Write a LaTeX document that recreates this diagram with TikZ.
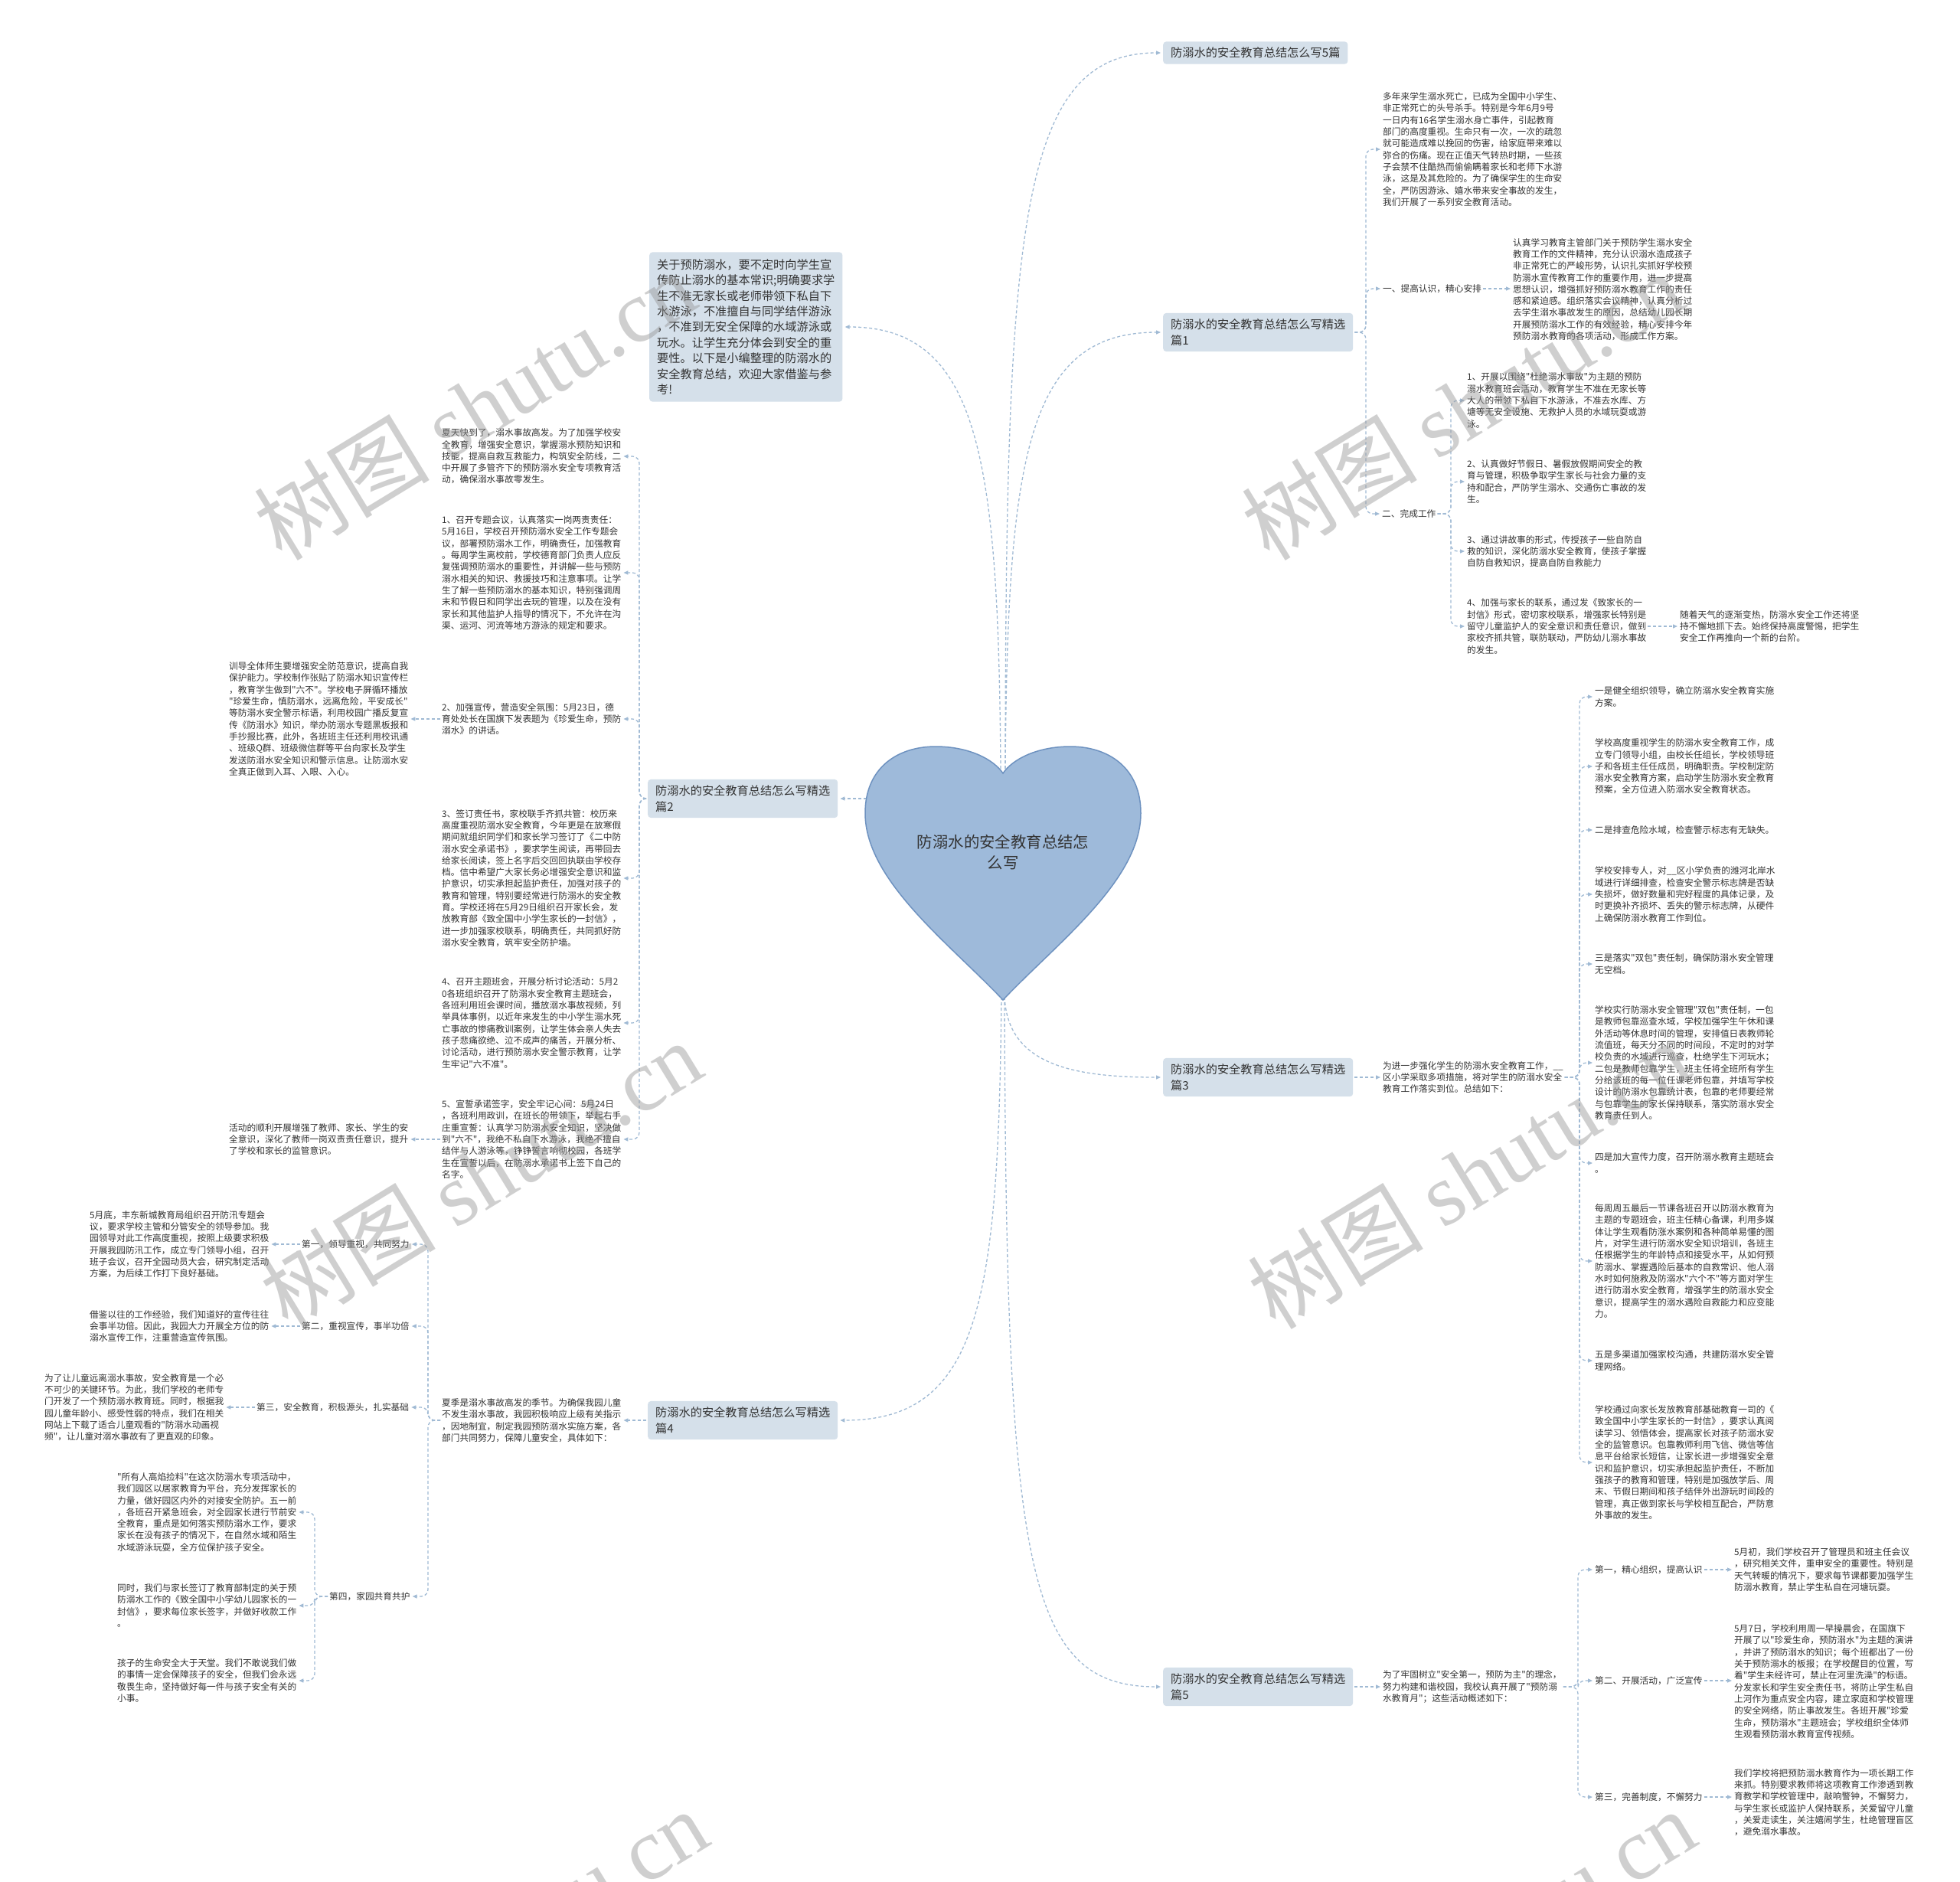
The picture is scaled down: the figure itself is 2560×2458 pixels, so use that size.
\documentclass[tikz,border=0pt]{standalone}
\usepackage{fontspec}
\setmainfont{Noto Sans CJK SC}[Ligatures=TeXOff]
\newfontfamily\wmserif{Liberation Serif}
\usetikzlibrary{arrows.meta}
\definecolor{txt}{RGB}{51,51,51}
\definecolor{boxfill}{RGB}{213,224,234}
\definecolor{lineblue}{RGB}{160,186,212}
\definecolor{heartfill}{RGB}{158,186,218}
\definecolor{heartline}{RGB}{110,146,192}
\definecolor{wmgray}{RGB}{150,150,150}
\tikzset{
 leaf/.style={inner sep=0pt, align=left, anchor=west, text=txt, font=\fontsize{11.7}{15.3}\selectfont},
 branch/.style={fill=boxfill, rounded corners=4pt, inner xsep=10pt, inner ysep=7.5pt, align=left, anchor=west, text=txt, font=\fontsize{15.2}{21}\selectfont},
 conn/.style={draw=lineblue, line width=1.3pt, dash pattern=on 4pt off 3pt, rounded corners=9pt, -{Triangle[length=6pt,width=5pt]}, shorten >=3pt, shorten <=2pt},
 wmark/.style={rotate=31.4, text=wmgray, opacity=0.45, font=\fontsize{115}{115}\selectfont, inner sep=0pt}
}
\begin{document}
\begin{tikzpicture}[x=1pt,y=-1pt]
\useasboundingbox (0,0) rectangle (2560,2458);
\fill[white] (0,0) rectangle (2560,2458);

% ---------- trunk coordinates ----------
\coordinate (t1) at (1784,0);
\coordinate (t1b) at (1895,0);
\coordinate (t3) at (2063,0);
\coordinate (t5) at (2061,0);
\coordinate (t2) at (835,0);
\coordinate (t4) at (559,0);
\coordinate (t4d) at (411,0);
\coordinate (hTR) at (1313,1006);
\coordinate (hTL) at (1307,1006);
\coordinate (hL) at (1134,1043);
\coordinate (hBR) at (1312,1300);
\coordinate (hBL) at (1308,1300);

% ---------- branch boxes ----------
\node[branch] (b5top) at (1519,69) {防溺水的安全教育总结怎么写5篇};
\node[branch] (b1) at (1519,434) {防溺水的安全教育总结怎么写精选\\篇1};
\node[branch] (b3) at (1519,1407) {防溺水的安全教育总结怎么写精选\\篇3};
\node[branch] (b5) at (1519,2203) {防溺水的安全教育总结怎么写精选\\篇5};
\node[branch, inner ysep=9pt, font=\fontsize{15.2}{20.4}\selectfont] (intro) at (848,427) {关于预防溺水，要不定时向学生宣\\传防止溺水的基本常识;明确要求学\\生不准无家长或老师带领下私自下\\水游泳，不准擅自与同学结伴游泳\\，不准到无安全保障的水域游泳或\\玩水。让学生充分体会到安全的重\\要性。以下是小编整理的防溺水的\\安全教育总结，欢迎大家借鉴与参\\考!};
\node[branch] (b2) at (846,1043) {防溺水的安全教育总结怎么写精选\\篇2};
\node[branch] (b4) at (846,1855) {防溺水的安全教育总结怎么写精选\\篇4};

% ---------- 篇1 ----------
\node[leaf] (b1t0) at (1806,195) {多年来学生溺水死亡，已成为全国中小学生、\\非正常死亡的头号杀手。特别是今年6月9号\\一日内有16名学生溺水身亡事件，引起教育\\部门的高度重视。生命只有一次，一次的疏忽\\就可能造成难以挽回的伤害，给家庭带来难以\\弥合的伤痛。现在正值天气转热时期，一些孩\\子会禁不住酷热而偷偷瞒着家长和老师下水游\\泳，这是及其危险的。为了确保学生的生命安\\全，严防因游泳、嬉水带来安全事故的发生，\\我们开展了一系列安全教育活动。};
\node[leaf] (b1a) at (1806,377) {一、提高认识，精心安排};
\node[leaf] (b1a1) at (1976,378) {认真学习教育主管部门关于预防学生溺水安全\\教育工作的文件精神，充分认识溺水造成孩子\\非正常死亡的严峻形势，认识扎实抓好学校预\\防溺水宣传教育工作的重要作用，进一步提高\\思想认识，增强抓好预防溺水教育工作的责任\\感和紧迫感。组织落实会议精神，认真分析过\\去学生溺水事故发生的原因，总结幼儿园长期\\开展预防溺水工作的有效经验，精心安排今年\\预防溺水教育的各项活动，形成工作方案。};
\node[leaf] (b1b) at (1805,671) {二、完成工作};
\node[leaf] (b1b1) at (1916,523) {1、开展以围绕"杜绝溺水事故"为主题的预防\\溺水教育班会活动，教育学生不准在无家长等\\大人的带领下私自下水游泳，不准去水库、方\\塘等无安全设施、无救护人员的水域玩耍或游\\泳。};
\node[leaf] (b1b2) at (1916,629) {2、认真做好节假日、暑假放假期间安全的教\\育与管理，积极争取学生家长与社会力量的支\\持和配合，严防学生溺水、交通伤亡事故的发\\生。};
\node[leaf] (b1b3) at (1916,720) {3、通过讲故事的形式，传授孩子一些自防自\\救的知识，深化防溺水安全教育，使孩子掌握\\自防自救知识，提高自防自救能力};
\node[leaf] (b1b4) at (1916,818) {4、加强与家长的联系，通过发《致家长的一\\封信》形式，密切家校联系，增强家长特别是\\留守儿童监护人的安全意识和责任意识，做到\\家校齐抓共管，联防联动，严防幼儿溺水事故\\的发生。};
\node[leaf] (b1b4x) at (2194,818) {随着天气的逐渐变热，防溺水安全工作还将坚\\持不懈地抓下去。始终保持高度警惕，把学生\\安全工作再推向一个新的台阶。};

% ---------- 篇3 ----------
\node[leaf] (b3t) at (1806,1407) {为进一步强化学生的防溺水安全教育工作，\_\_\\区小学采取多项措施，将对学生的防溺水安全\\教育工作落实到位。总结如下：};
\node[leaf] (b3a) at (2083,910) {一是健全组织领导，确立防溺水安全教育实施\\方案。};
\node[leaf] (b3b) at (2083,1001) {学校高度重视学生的防溺水安全教育工作，成\\立专门领导小组，由校长任组长，学校领导班\\子和各班主任任成员，明确职责。学校制定防\\溺水安全教育方案，启动学生防溺水安全教育\\预案，全方位进入防溺水安全教育状态。};
\node[leaf] (b3c) at (2083,1084) {二是排查危险水域，检查警示标志有无缺失。};
\node[leaf] (b3d) at (2083,1168) {学校安排专人，对\_\_区小学负责的潍河北岸水\\域进行详细排查，检查安全警示标志牌是否缺\\失损坏，做好数量和完好程度的具体记录，及\\时更换补齐损坏、丢失的警示标志牌，从硬件\\上确保防溺水教育工作到位。};
\node[leaf] (b3e) at (2083,1259) {三是落实"双包"责任制，确保防溺水安全管理\\无空档。};
\node[leaf] (b3f) at (2083,1388) {学校实行防溺水安全管理"双包"责任制，一包\\是教师包靠巡查水域，学校加强学生午休和课\\外活动等休息时间的管理，安排值日表教师轮\\流值班，每天分不同的时间段，不定时的对学\\校负责的水域进行巡查，杜绝学生下河玩水；\\二包是教师包靠学生，班主任将全班所有学生\\分给该班的每一位任课老师包靠，并填写学校\\设计的防溺水包靠统计表，包靠的老师要经常\\与包靠学生的家长保持联系，落实防溺水安全\\教育责任到人。};
\node[leaf] (b3g) at (2083,1519) {四是加大宣传力度，召开防溺水教育主题班会\\。};
\node[leaf] (b3h) at (2083,1647) {每周周五最后一节课各班召开以防溺水教育为\\主题的专题班会，班主任精心备课，利用多媒\\体让学生观看防涨水案例和各种简单易懂的图\\片，对学生进行防溺水安全知识培训，各班主\\任根据学生的年龄特点和接受水平，从如何预\\防溺水、掌握遇险后基本的自救常识、他人溺\\水时如何施救及防溺水"六个不"等方面对学生\\进行防溺水安全教育，增强学生的防溺水安全\\意识，提高学生的溺水遇险自救能力和应变能\\力。};
\node[leaf] (b3i) at (2083,1777) {五是多渠道加强家校沟通，共建防溺水安全管\\理网络。};
\node[leaf] (b3j) at (2083,1910) {学校通过向家长发放教育部基础教育一司的《\\致全国中小学生家长的一封信》，要求认真阅\\读学习、领悟体会，提高家长对孩子防溺水安\\全的监管意识。包靠教师利用飞信、微信等信\\息平台给家长短信，让家长进一步增强安全意\\识和监护意识，切实承担起监护责任，不断加\\强孩子的教育和管理，特别是加强放学后、周\\末、节假日期间和孩子结伴外出游玩时间段的\\管理，真正做到家长与学校相互配合，严防意\\外事故的发生。};

% ---------- 篇5 ----------
\node[leaf] (b5t) at (1806,2203) {为了牢固树立"安全第一，预防为主"的理念，\\努力构建和谐校园，我校认真开展了"预防溺\\水教育月"；这些活动概述如下：};
\node[leaf] (b5a) at (2083,2050) {第一，精心组织，提高认识};
\node[leaf] (b5a1) at (2265,2050) {5月初，我们学校召开了管理员和班主任会议\\，研究相关文件，重申安全的重要性。特别是\\天气转暖的情况下，要求每节课都要加强学生\\防溺水教育，禁止学生私自在河塘玩耍。};
\node[leaf] (b5b) at (2083,2195) {第二、开展活动，广泛宣传};
\node[leaf] (b5b1) at (2265,2196) {5月7日，学校利用周一早操晨会，在国旗下\\开展了以"珍爱生命，预防溺水"为主题的演讲\\，并讲了预防溺水的知识；每个班都出了一份\\关于预防溺水的板报；在学校醒目的位置，写\\着"学生未经许可，禁止在河里洗澡"的标语。\\分发家长和学生安全责任书，将防止学生私自\\上河作为重点安全内容，建立家庭和学校管理\\的安全网络，防止事故发生。各班开展"珍爱\\生命，预防溺水"主题班会；学校组织全体师\\生观看预防溺水教育宣传视频。};
\node[leaf] (b5c) at (2083,2347) {第三，完善制度，不懈努力};
\node[leaf] (b5c1) at (2265,2354) {我们学校将把预防溺水教育作为一项长期工作\\来抓。特别要求教师将这项教育工作渗透到教\\育教学和学校管理中，敲响警钟，不懈努力，\\与学生家长或监护人保持联系，关爱留守儿童\\，关爱走读生，关注嬉闹学生，杜绝管理盲区\\，避免溺水事故。};

% ---------- 篇2 ----------
\node[leaf] (b2c1) at (577,596) {夏天快到了，溺水事故高发。为了加强学校安\\全教育，增强安全意识，掌握溺水预防知识和\\技能，提高自救互救能力，构筑安全防线，二\\中开展了多管齐下的预防溺水安全专项教育活\\动，确保溺水事故零发生。};
\node[leaf] (b2c2) at (577,748) {1、召开专题会议，认真落实一岗两责责任：\\5月16日，学校召开预防溺水安全工作专题会\\议，部署预防溺水工作，明确责任，加强教育\\。每周学生离校前，学校德育部门负责人应反\\复强调预防溺水的重要性，并讲解一些与预防\\溺水相关的知识、救援技巧和注意事项。让学\\生了解一些预防溺水的基本知识，特别强调周\\末和节假日和同学出去玩的管理，以及在没有\\家长和其他监护人指导的情况下，不允许在沟\\渠、运河、河流等地方游泳的规定和要求。};
\node[leaf] (b2c3) at (577,939) {2、加强宣传，营造安全氛围：5月23日，德\\育处处长在国旗下发表题为《珍爱生命，预防\\溺水》的讲话。};
\node[leaf] (b2c3x) at (299,939) {训导全体师生要增强安全防范意识，提高自我\\保护能力。学校制作张贴了防溺水知识宣传栏\\，教育学生做到"六不"。学校电子屏循环播放\\"珍爱生命，慎防溺水，远离危险，平安成长"\\等防溺水安全警示标语，利用校园广播反复宣\\传《防溺水》知识，举办防溺水专题黑板报和\\手抄报比赛，此外，各班班主任还利用校讯通\\、班级Q群、班级微信群等平台向家长及学生\\发送防溺水安全知识和警示信息。让防溺水安\\全真正做到入耳、入眼、入心。};
\node[leaf] (b2c4) at (577,1147) {3、签订责任书，家校联手齐抓共管：校历来\\高度重视防溺水安全教育，今年更是在放寒假\\期间就组织同学们和家长学习签订了《二中防\\溺水安全承诺书》，要求学生阅读，再带回去\\给家长阅读，签上名字后交回回执联由学校存\\档。信中希望广大家长务必增强安全意识和监\\护意识，切实承担起监护责任，加强对孩子的\\教育和管理，特别要经常进行防溺水的安全教\\育。学校还将在5月29日组织召开家长会，发\\放教育部《致全国中小学生家长的一封信》，\\进一步加强家校联系，明确责任，共同抓好防\\溺水安全教育，筑牢安全防护墙。};
\node[leaf] (b2c5) at (577,1336) {4、召开主题班会，开展分析讨论活动：5月2\\0各班组织召开了防溺水安全教育主题班会，\\各班利用班会课时间，播放溺水事故视频，列\\举具体事例，以近年来发生的中小学生溺水死\\亡事故的惨痛教训案例，让学生体会亲人失去\\孩子悲痛欲绝、泣不成声的痛苦，开展分析、\\讨论活动，进行预防溺水安全警示教育，让学\\生牢记"六不准"。};
\node[leaf] (b2c6) at (577,1488) {5、宣誓承诺签字，安全牢记心间：5月24日\\，各班利用政训，在班长的带领下，举起右手\\庄重宣誓：认真学习防溺水安全知识，坚决做\\到"六不"，我绝不私自下水游泳，我绝不擅自\\结伴与人游泳等，铮铮誓言响彻校园，各班学\\生在宣誓以后，在防溺水承诺书上签下自己的\\名字。};
\node[leaf] (b2c6x) at (299,1488) {活动的顺利开展增强了教师、家长、学生的安\\全意识，深化了教师一岗双责责任意识，提升\\了学校和家长的监管意识。};

% ---------- 篇4 ----------
\node[leaf] (b4t) at (577,1855) {夏季是溺水事故高发的季节。为确保我园儿童\\不发生溺水事故，我园积极响应上级有关指示\\，因地制宜，制定我园预防溺水实施方案，各\\部门共同努力，保障儿童安全，具体如下：};
\node[leaf] (b4a) at (394,1625) {第一，领导重视，共同努力};
\node[leaf] (b4a1) at (117,1625) {5月底，丰东新城教育局组织召开防汛专题会\\议，要求学校主管和分管安全的领导参加。我\\园领导对此工作高度重视，按照上级要求积极\\开展我园防汛工作，成立专门领导小组，召开\\班子会议，召开全园动员大会，研究制定活动\\方案，为后续工作打下良好基础。};
\node[leaf] (b4b) at (394,1732) {第二，重视宣传，事半功倍};
\node[leaf] (b4b1) at (117,1732) {借鉴以往的工作经验，我们知道好的宣传往往\\会事半功倍。因此，我园大力开展全方位的防\\溺水宣传工作，注重营造宣传氛围。};
\node[leaf] (b4c) at (335,1838) {第三，安全教育，积极源头，扎实基础};
\node[leaf] (b4c1) at (58,1838) {为了让儿童远离溺水事故，安全教育是一个必\\不可少的关键环节。为此，我们学校的老师专\\门开发了一个预防溺水教育班。同时，根据我\\园儿童年龄小、感受性弱的特点，我们在相关\\网站上下载了适合儿童观看的"防溺水动画视\\频"，让儿童对溺水事故有了更直观的印象。};
\node[leaf] (b4d) at (430,2085) {第四，家园共育共护};
\node[leaf] (b4d1) at (153,1975) {"所有人高焰捡料"在这次防溺水专项活动中，\\我们园区以居家教育为平台，充分发挥家长的\\力量，做好园区内外的对接安全防护。五一前\\，各班召开紧急班会，对全园家长进行节前安\\全教育，重点是如何落实预防溺水工作，要求\\家长在没有孩子的情况下，在自然水域和陌生\\水域游泳玩耍，全方位保护孩子安全。};
\node[leaf] (b4d2) at (153,2097) {同时，我们与家长签订了教育部制定的关于预\\防溺水工作的《致全国中小学幼儿园家长的一\\封信》，要求每位家长签字，并做好收款工作\\。};
\node[leaf] (b4d3) at (153,2195) {孩子的生命安全大于天堂。我们不敢说我们做\\的事情一定会保障孩子的安全，但我们会永远\\敬畏生命，坚持做好每一件与孩子安全有关的\\小事。};

% ---------- connectors from the root ----------
\draw[conn] (hTR) .. controls (1314,300) and (1330,69) .. (b5top.west);
\draw[conn] (hTR) .. controls (1316,600) and (1340,434) .. (b1.west);
\draw[conn] (hTL) .. controls (1304,600) and (1280,427) .. (intro.east);
\draw[conn] (hL) -- (b2.east);
\draw[conn] (hBL) .. controls (1304,1700) and (1280,1855) .. (b4.east);
\draw[conn] (hBR) .. controls (1316,1390) and (1400,1407) .. (b3.west);
\draw[conn] (hBR) .. controls (1314,2050) and (1340,2203) .. (b5.west);

% ---------- 篇1 connectors ----------
\foreach \c in {b1t0,b1a,b1b}{\draw[conn] (b1.east) -- (b1.east -| t1) |- (\c.west);}
\draw[conn] (b1a.east) -- (b1a.east -| b1a1.west);
\foreach \c in {b1b1,b1b2,b1b3,b1b4}{\draw[conn] (b1b.east) -- (b1b.east -| t1b) |- (\c.west);}
\draw[conn] (b1b4.east) -- (b1b4.east -| b1b4x.west);

% ---------- 篇3 connectors ----------
\draw[conn] (b3.east) -- (b3.east -| b3t.west);
\foreach \c in {b3a,b3b,b3c,b3d,b3e,b3f,b3g,b3h,b3i,b3j}{\draw[conn] (b3t.east) -- (b3t.east -| t3) |- (\c.west);}

% ---------- 篇5 connectors ----------
\draw[conn] (b5.east) -- (b5.east -| b5t.west);
\foreach \c in {b5a,b5b,b5c}{\draw[conn] (b5t.east) -- (b5t.east -| t5) |- (\c.west);}
\draw[conn] (b5a.east) -- (b5a.east -| b5a1.west);
\draw[conn] (b5b.east) -- (b5b.east -| b5b1.west);
\draw[conn] (b5c.east) -- (b5c.east -| b5c1.west);

% ---------- 篇2 connectors ----------
\foreach \c in {b2c1,b2c2,b2c3,b2c4,b2c5,b2c6}{\draw[conn] (b2.west) -- (b2.west -| t2) |- (\c.east);}
\draw[conn] (b2c3.west) -- (b2c3.west -| b2c3x.east);
\draw[conn] (b2c6.west) -- (b2c6.west -| b2c6x.east);

% ---------- 篇4 connectors ----------
\draw[conn] (b4.west) -- (b4.west -| b4t.east);
\foreach \c in {b4a,b4b,b4c,b4d}{\draw[conn] (b4t.west) -- (b4t.west -| t4) |- (\c.east);}
\draw[conn] (b4a.west) -- (b4a.west -| b4a1.east);
\draw[conn] (b4b.west) -- (b4b.west -| b4b1.east);
\draw[conn] (b4c.west) -- (b4c.west -| b4c1.east);
\foreach \c in {b4d1,b4d2,b4d3}{\draw[conn] (b4d.west) -- (b4d.west -| t4d) |- (\c.east);}

% ---------- root heart ----------
\draw[fill=heartfill, draw=heartline, line width=1.5pt] (1310,1306) .. controls (1240,1232) and (1130,1150) .. (1130,1062)
 .. controls (1130,1003) and (1172,975) .. (1222,975)
 .. controls (1266,975) and (1298,992) .. (1310,1010)
 .. controls (1322,992) and (1354,975) .. (1398,975)
 .. controls (1448,975) and (1490,1003) .. (1490,1062)
 .. controls (1490,1150) and (1380,1232) .. (1310,1306) -- cycle;
\node[font=\fontsize{20.4}{27.8}\selectfont, text=txt, align=center] (root) at (1310,1113) {防溺水的安全教育总结怎\\么写};

% ---------- watermarks ----------
\begin{scope}
\clip (0,0) rectangle (2560,2458);
\node[wmark] (wm1) at (620,530) {树图 {\wmserif shutu.cn}};
\node[wmark] (wm2) at (628,1534) {树图 {\wmserif shutu.cn}};
\node[wmark] (wm3) at (1910,530) {树图 {\wmserif shutu.cn}};
\node[wmark] (wm4) at (1918,1534) {树图 {\wmserif shutu.cn}};
\node[wmark] (wm5) at (636,2538) {树图 {\wmserif shutu.cn}};
\node[wmark] (wm6) at (1926,2538) {树图 {\wmserif shutu.cn}};
\end{scope}
\end{tikzpicture}
\end{document}
